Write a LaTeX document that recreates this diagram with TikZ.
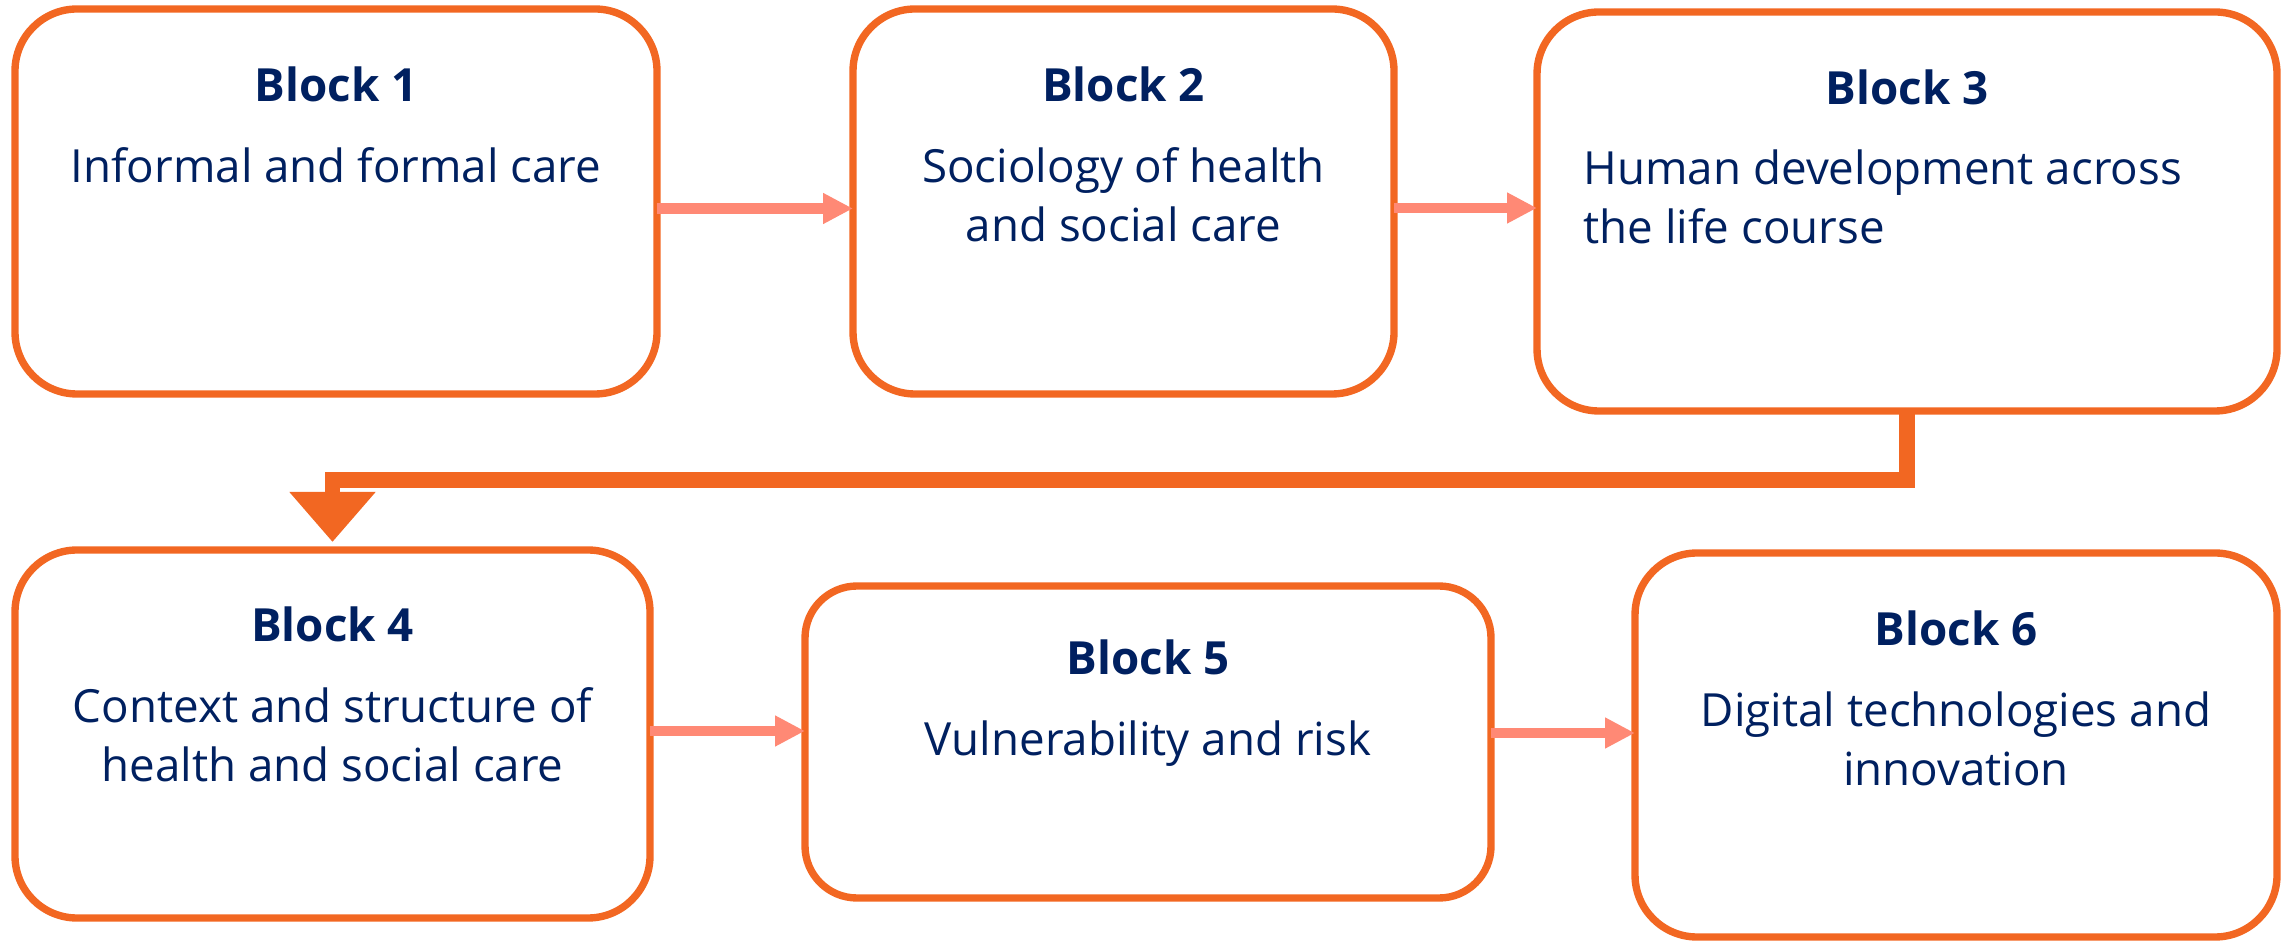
\documentclass[tikz,border=0pt]{standalone}
\usepackage{fontspec}
\setmainfont{Open Sans}
\usetikzlibrary{arrows.meta,positioning}

\definecolor{blockorange}{RGB}{242,103,34}
\definecolor{linksalmon}{RGB}{255,137,117}
\definecolor{textnavy}{RGB}{0,32,96}

\tikzset{
  block/.style={draw=blockorange, line width=2.1pt, rounded corners=0.62cm, inner sep=0pt, outer sep=0pt},
  blocktitle/.style={font=\bfseries\fontsize{13}{16.8}\selectfont, text=textnavy, inner sep=0pt, anchor=base},
  blocktext/.style={font=\fontsize{13}{16.8}\selectfont, text=textnavy, inner sep=0pt, align=center},
  link/.style={draw=linksalmon, line width=2.9pt, -{Triangle[length=0.3cm,width=0.29cm]}},
  elbow/.style={draw=blockorange, line width=4.5pt, line join=miter, -{Triangle[length=0.5cm,width=0.83cm]}}
}

\begin{document}
\begin{tikzpicture}
        \useasboundingbox (0,0) rectangle (22.87,9.44);

        % top row
        \node[block, minimum width=6.42cm, minimum height=3.85cm] (b1) at (3.36,7.425) {};
        \node[block, minimum width=5.41cm, minimum height=3.85cm] (b2) at (11.235,7.425) {};
        \node[block, minimum width=7.40cm, minimum height=3.99cm] (b3) at (19.07,7.325) {};

        % bottom row
        \node[block, minimum width=6.35cm, minimum height=3.68cm] (b4) at (3.325,2.10) {};
        \node[block, minimum width=6.86cm, minimum height=3.12cm, rounded corners=0.52cm] (b5) at (11.48,2.02) {};
        \node[block, minimum width=6.42cm, minimum height=3.84cm] (b6) at (19.56,1.99) {};

        \node[blocktitle] (t1) at ([yshift=-0.93cm]b1.north) {Block 1};
        \node[blocktitle] (t2) at ([yshift=-0.93cm]b2.north) {Block 2};
        \node[blocktitle] (t3) at ([yshift=-0.93cm]b3.north) {Block 3};
        \node[blocktitle] (t4) at ([yshift=-0.92cm]b4.north) {Block 4};
        \node[blocktitle] (t5) at ([yshift=-0.89cm]b5.north) {Block 5};
        \node[blocktitle] (t6) at ([yshift=-0.93cm]b6.north) {Block 6};

        \node[blocktext, below=0.44cm of t1] (d1) {Informal and formal care};
        \node[blocktext, below=0.44cm of t2] (d2) {Sociology of health\\and social care};
        \node[blocktext, align=left, anchor=north west] (d3) at (15.83,7.95) {Human development across\\the life course};
        \node[blocktext, below=0.44cm of t4] (d4) {Context and structure of\\health and social care};
        \node[blocktext, below=0.44cm of t5] (d5) {Vulnerability and risk};
        \node[blocktext, below=0.44cm of t6] (d6) {Digital technologies and\\innovation};

        \coordinate (a12) at ([yshift=-0.07cm]b1.east);
        \coordinate (a23) at ([yshift=-0.065cm]b2.east);
        \coordinate (a45) at ([yshift=0.03cm]b4.east);
        \coordinate (a56) at ([yshift=0.09cm]b5.east);

        \draw[link] (a12) -- (a12 -| b2.west);
        \draw[link] (a23) -- (a23 -| b3.west);
        \draw[link] (a45) -- (a45 -| b5.west);
        \draw[link] (a56) -- (a56 -| b6.west);

        \draw[elbow] (b3.south) |- ([yshift=0.70cm]b4.north) -- ([yshift=0.08cm]b4.north);
    \end{tikzpicture}
\end{document}
